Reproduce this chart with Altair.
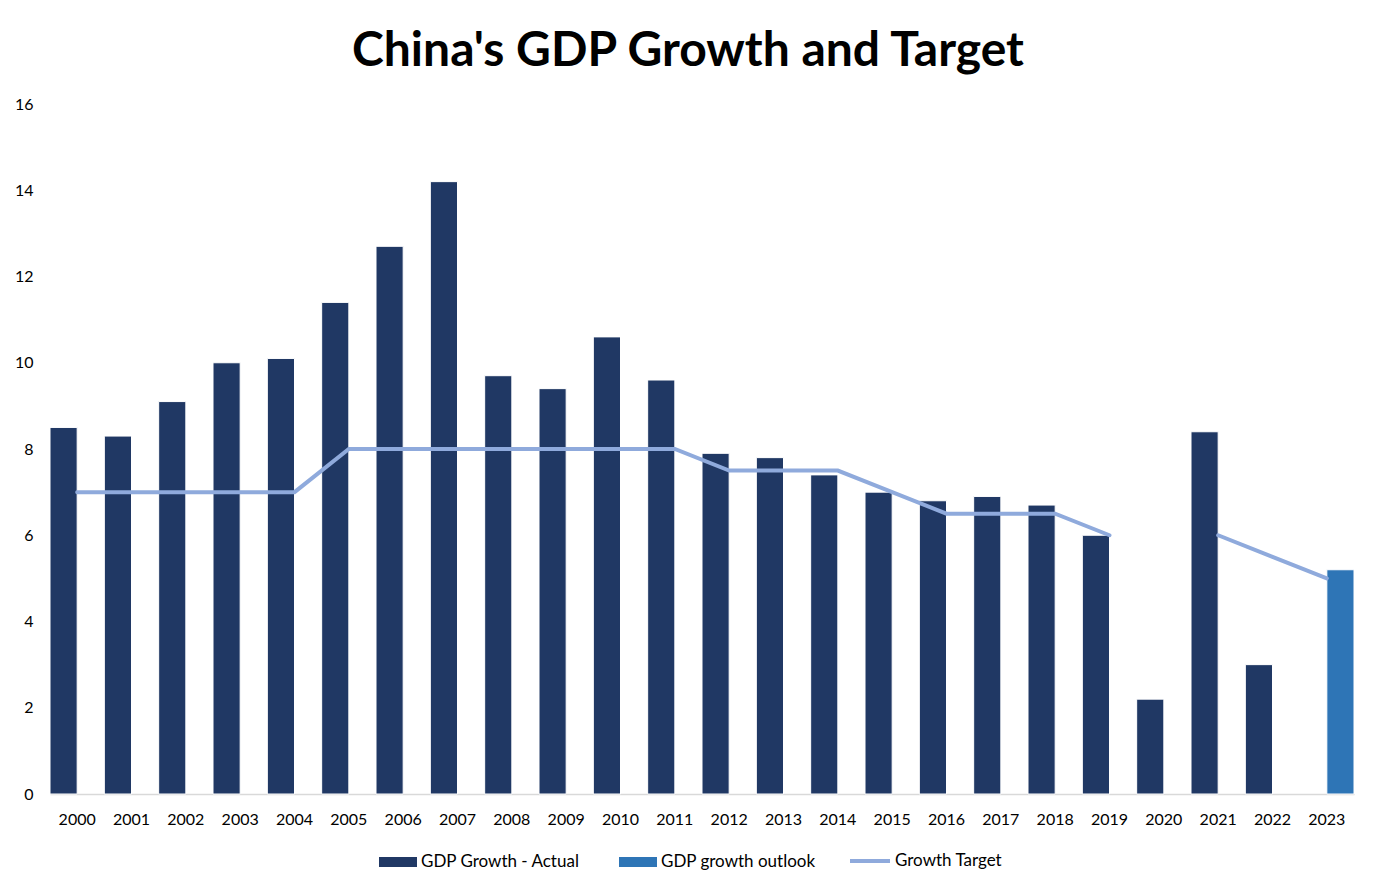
import altair as alt
import pandas as pd

years = [str(y) for y in range(2000, 2024)]
actual = [8.5, 8.3, 9.1, 10.0, 10.1, 11.4, 12.7, 14.2, 9.7, 9.4, 10.6, 9.6,
          7.9, 7.8, 7.4, 7.0, 6.8, 6.9, 6.7, 6.0, 2.2, 8.4, 3.0, None]
outlook = [None] * 23 + [5.2]
target = [7, 7, 7, 7, 7, 8, 8, 8, 8, 8, 8, 8,
          7.5, 7.5, 7.5, 7, 6.5, 6.5, 6.5, 6.0, None, 6.0, 5.5, 5.0]

S_ACT = "GDP Growth - Actual"
S_OUT = "GDP growth outlook"
S_TGT = "Growth Target"
bar_colors = ["#203864", "#2E75B6"]
line_color = "#8FAADC"

bar_rows = []
for y, a, o in zip(years, actual, outlook):
    if a is not None:
        bar_rows.append({"year": y, "series": S_ACT, "value": a})
    if o is not None:
        bar_rows.append({"year": y, "series": S_OUT, "value": o})
bars_df = pd.DataFrame(bar_rows)

line_rows = []
seg = 0
for y, t in zip(years, target):
    if t is None:
        seg += 1
        continue
    line_rows.append({"year": y, "target": t, "seg": seg, "name": S_TGT})
line_df = pd.DataFrame(line_rows)

FONT = "Lato"

x_enc = alt.X("year:N", sort=years,
              scale=alt.Scale(domain=years, paddingInner=0, paddingOuter=0),
              axis=alt.Axis(title=None, labelAngle=0, ticks=False, labelPadding=17,
                            domainColor="#D9D9D9", domainWidth=1.5,
                            labelFont=FONT, labelFontSize=16, labelColor="#000000"))
y_enc = alt.Y("value:Q",
              scale=alt.Scale(domain=[0, 16], nice=False),
              axis=alt.Axis(title=None, values=list(range(0, 17, 2)), grid=False,
                            domain=False, ticks=False, labelPadding=17,
                            minExtent=34, maxExtent=34,
                            labelFont=FONT, labelFontSize=16, labelColor="#000000"))

bars = alt.Chart(bars_df).mark_bar(stroke="#FFFFFF", strokeWidth=1).encode(
    x=x_enc,
    xOffset=alt.XOffset("series:N", scale=alt.Scale(domain=[S_ACT, S_OUT],
                                                    paddingInner=0, paddingOuter=0)),
    y=y_enc,
    color=alt.Color("series:N",
                    scale=alt.Scale(domain=[S_ACT, S_OUT], range=bar_colors),
                    legend=alt.Legend(title=None, orient="none", direction="horizontal",
                                      legendX=329, legendY=739,
                                      labelFont=FONT, labelFontSize=17,
                                      labelColor="#000000", labelLimit=400,
                                      symbolType="M-1,-0.26H1V0.26H-1Z",
                                      symbolSize=1444, symbolStrokeWidth=0,
                                      columnPadding=39, labelOffset=4)),
)

line = alt.Chart(line_df).mark_line(strokeWidth=4, strokeCap="round").encode(
    x=alt.X("year:N", sort=years),
    y=alt.Y("target:Q"),
    detail="seg:N",
    stroke=alt.Stroke("name:N",
                      scale=alt.Scale(domain=[S_TGT], range=[line_color]),
                      legend=alt.Legend(title=None, orient="none", direction="horizontal",
                                        legendX=798, legendY=735,
                                        labelFont=FONT, labelFontSize=17,
                                        labelColor="#000000", labelLimit=400,
                                        symbolType="stroke", symbolSize=1600,
                                        symbolStrokeWidth=4, labelOffset=3)),
)

chart = alt.layer(bars, line).resolve_legend(color="independent", stroke="independent").properties(
    width=1304, height=690,
    title=alt.TitleParams("China's GDP Growth and Target", font=FONT, fontSize=48,
                          fontWeight="bold", color="#000000", anchor="middle",
                          offset=20, dx=-14),
    padding={"left": 6, "top": 20, "right": 5, "bottom": 5},
).configure_view(stroke=None)

chart.save("out.html", embed_options={"renderer": "svg", "actions": False})
